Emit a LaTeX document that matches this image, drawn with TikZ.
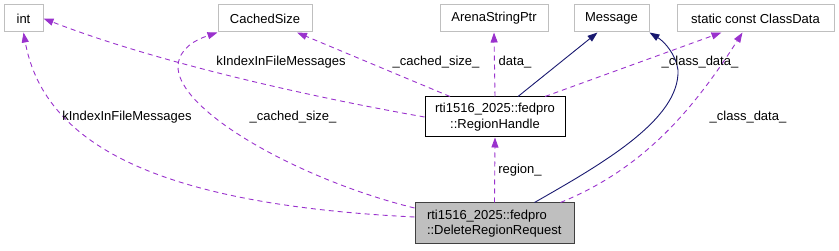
\documentclass[tikz,border=0pt]{standalone}
\usepackage{fontspec}
\setmainfont{Liberation Sans}
\usetikzlibrary{arrows.meta}
\definecolor{edgepurple}{HTML}{9A32CD}
\definecolor{edgenavy}{HTML}{191970}
\definecolor{boxgray}{HTML}{BFBFBF}
\definecolor{boxdark}{HTML}{404040}

\begin{document}
\begin{tikzpicture}[x=1pt, y=-1pt,
        every node/.style={font=\fontsize{13}{15.5}\selectfont, inner sep=0pt},
        extbox/.style={rectangle, draw=boxgray, line width=1pt, minimum height=27pt},
        classbox/.style={rectangle, draw=black, line width=1pt, minimum height=40pt, align=center},
        mainbox/.style={rectangle, draw=boxdark, fill=boxgray, line width=1pt, minimum height=41pt, align=left},
        member/.style={draw=edgepurple, dash pattern=on 5pt off 4pt, line width=0.9pt, -{Triangle[length=10pt, width=7pt]}},
        inherit/.style={draw=edgenavy, line width=0.9pt, -{Triangle[length=10pt, width=7pt]}}]
        \useasboundingbox (0,0) rectangle (839,251);
        \node[extbox, minimum width=39pt] (int) at (23.5,18.5) {int};
        \node[extbox, minimum width=94pt] (cachedsize) at (265,18.5) {CachedSize};
        \node[extbox, minimum width=108pt] (arenastr) at (494,18.5) {ArenaStringPtr};
        \node[extbox, minimum width=75pt] (message) at (611.5,18.5) {Message};
        \node[extbox, minimum width=157pt] (classdata) at (755.5,18.5) {static const ClassData};
        \node[classbox, minimum width=140pt] (regionhandle) at (495,117) {rti1516\_2025::fedpro\\::RegionHandle};
        \node[mainbox, minimum width=159pt, text width=135pt] (request) at (494.5,223.5) {rti1516\_2025::fedpro\\::DeleteRegionRequest};
        \draw[member] ([yshift=6.5pt]request.west) .. controls (170,205) and (45,150) .. (int.south);
        \draw[member] (regionhandle.west) .. controls (300,95) and (150,60) .. (int.east);
        \draw[member] ([yshift=15.5pt]request.west) .. controls (300,180) and (175,110) .. (178,65) .. controls (180,48) and (195,40) .. (cachedsize.south west);
        \draw[member] ([xshift=-45pt]regionhandle.north) -- ([xshift=32pt]cachedsize.south);
        \draw[member] (regionhandle.north) -- (arenastr.south);
        \draw[inherit] ([xshift=23pt]regionhandle.north) -- ([xshift=-14pt]message.south);
        \draw[member] ([xshift=50pt]regionhandle.north) -- ([xshift=-34pt]classdata.south);
        \draw[inherit] ([xshift=40pt]request.north) .. controls (600,165) and (680,120) .. (678,70) .. controls (676,55) and (665,42) .. (message.south east);
        \draw[member] ([xshift=66pt]request.north) .. controls (640,170) and (690,115) .. ([xshift=-13pt]classdata.south);
        \draw[member] (request.north) -- (regionhandle.south);
        \node (lblint1) at (127,117) {kIndexInFileMessages};
        \node (lblint2) at (281,62) {kIndexInFileMessages};
        \node (lblsize1) at (293,117) {\_cached\_size\_};
        \node (lblsize2) at (436,62) {\_cached\_size\_};
        \node (lbldata) at (515,62) {data\_};
        \node (lblclass1) at (700,62) {\_class\_data\_};
        \node (lblclass2) at (748,117) {\_class\_data\_};
        \node (lblregion) at (520,170) {region\_};
\end{tikzpicture}
\end{document}
